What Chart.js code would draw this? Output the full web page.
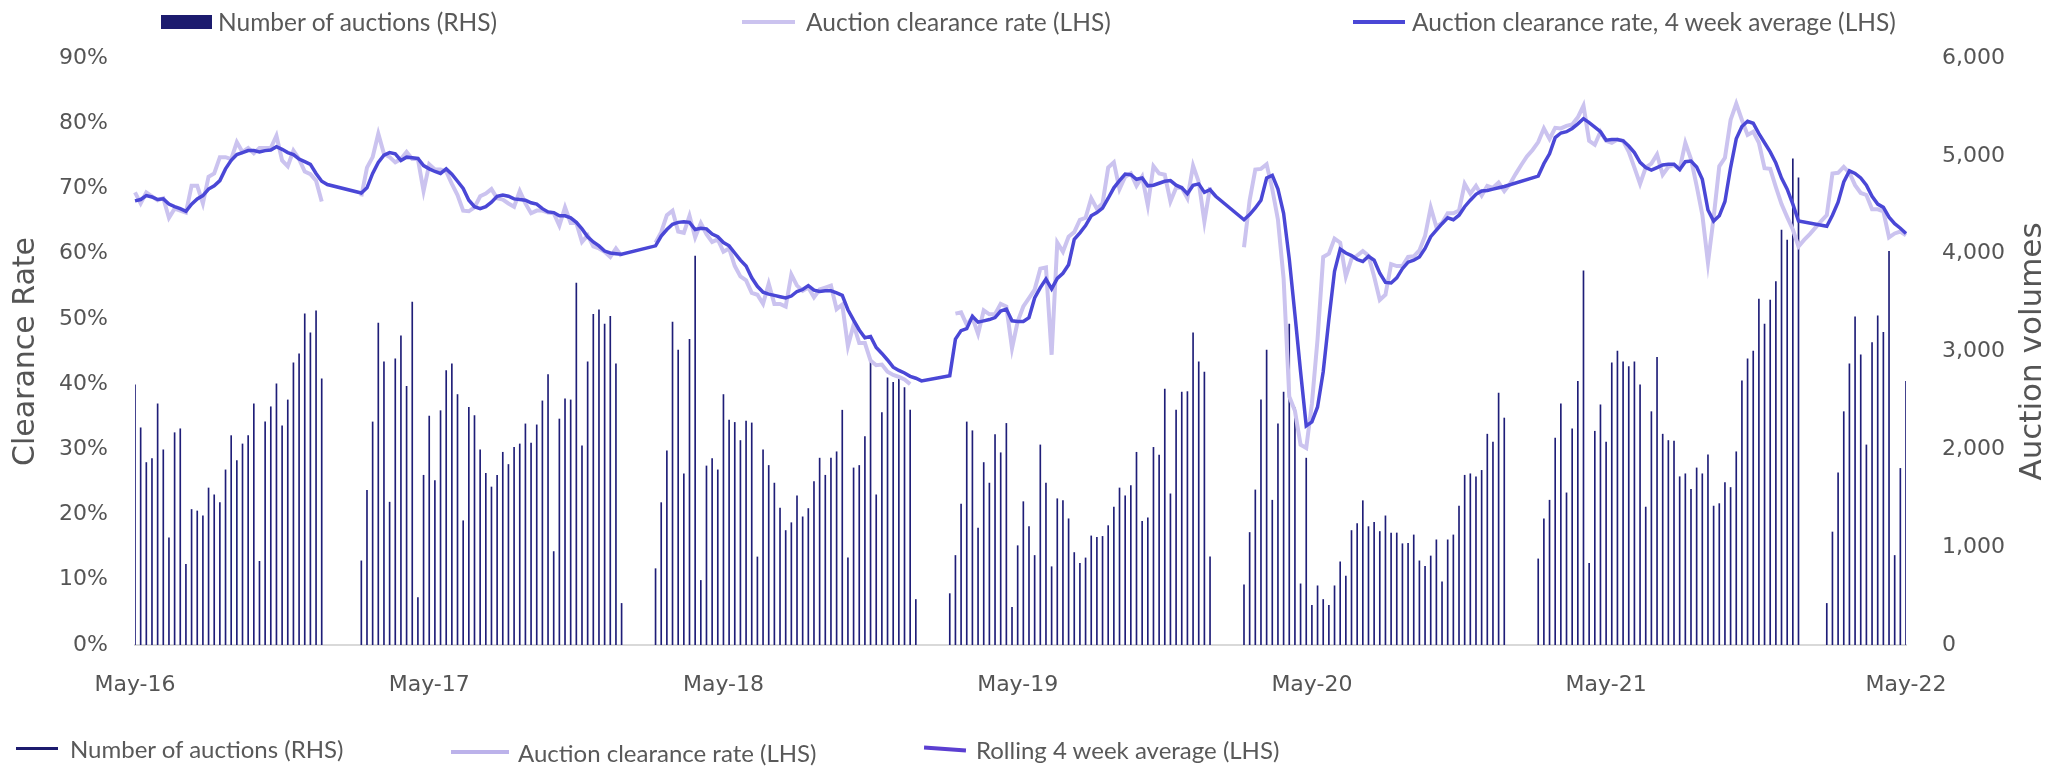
<!DOCTYPE html>
<html>
<head>
<meta charset="utf-8">
<script src="https://cdn.jsdelivr.net/npm/chart.js@4.4.1/dist/chart.umd.min.js"></script>
<style>
  html, body { margin: 0; padding: 0; background: #fff; }
  #wrap { position: relative; width: 2063px; height: 767px; }
  #chart { position: absolute; left: 0; top: 0; }
  .lg { position: absolute; font-family: Lato, "Liberation Sans", sans-serif; font-size: 24.5px;
        color: #595959; white-space: nowrap; line-height: 1.2; transform: translateY(-50%); }
  .lg.b { font-size: 24px; }
  .sw { position: absolute; }
</style>
</head>
<body>
<div id="wrap">
  <canvas id="chart" width="2063" height="767"></canvas>

  <!-- top legend -->
  <div class="sw" style="left:161px;top:15px;width:51px;height:14px;background:#1c1b6e"></div>
  <div class="lg" style="left:218px;top:22px">Number of auctions (RHS)</div>
  <div class="sw" style="left:742px;top:20px;width:53px;height:4px;background:#cbc3ef"></div>
  <div class="lg" style="left:806px;top:22px">Auction clearance rate (LHS)</div>
  <div class="sw" style="left:1353px;top:20px;width:52px;height:4px;background:#4a47d6"></div>
  <div class="lg" style="left:1412px;top:22px">Auction clearance rate, 4 week average (LHS)</div>

  <!-- bottom legend -->
  <div class="sw" style="left:16px;top:747px;width:42px;height:3px;background:#1c1b6e"></div>
  <div class="lg b" style="left:70px;top:749px">Number of auctions (RHS)</div>
  <div class="sw" style="left:451px;top:750px;width:58px;height:4px;background:#bcb2ea"></div>
  <div class="lg b" style="left:518px;top:753px">Auction clearance rate (LHS)</div>
  <div class="sw" style="left:924px;top:747px;width:42px;height:4px;background:#5b3fd1;transform:rotate(4deg)"></div>
  <div class="lg b" style="left:976px;top:750px">Rolling 4 week average (LHS)</div>
</div>

<script>
// weekly, first week 7 May 2016
const firstWeek = Date.UTC(2016, 4, 7);

// number of auctions per week (RHS)
const auctions = [
  2660, 2220, 1865, 1905, 2465, 1995, 1095, 2170, 2210, 825, 1385, 1370, 1320, 1605, 1535, 1455, 1790,
  2140, 1885, 2055, 2140, 2465, 855, 2280, 2435, 2670, 2240, 2505, 2885, 2975, 3385, 3190, 3415, 2720,
  null, null, null, null, null, null,
  860, 1580, 2280, 3290, 2895, 1460, 2925, 3160, 2645, 3505, 485, 1735, 2340, 1680, 2395, 2805, 2875,
  2560, 1270, 2430, 2345, 1995, 1755, 1615, 1735, 1970, 1845, 2020, 2055, 2260, 2065, 2250, 2495, 2765,
  955, 2310, 2515, 2505, 3700, 2035, 2895, 3380, 3425, 3280, 3360, 2875, 425,
  null, null, null, null, null,
  780, 1455, 1985, 3300, 3015, 1750, 3125, 3975, 660, 1830, 1905, 1790, 2560, 2300, 2275, 2090, 2290,
  2270, 900, 1995, 1835, 1655, 1400, 1170, 1250, 1525, 1310, 1395, 1670, 1910, 1735, 1910, 1975, 2400,
  890, 1810, 1835, 2130, 2915, 1535, 2375, 2730, 2685, 2720, 2630, 2400, 465,
  null, null, null, null, null,
  525, 915, 1440, 2280, 2190, 1195, 1865, 1655, 2150, 1965, 2265, 385, 1015, 1465, 1210, 915, 2045,
  1655, 800, 1495, 1475, 1290, 945, 835, 890, 1115, 1100, 1110, 1220, 1410, 1605, 1525, 1630, 1970,
  1265, 1300, 2020, 1940, 2615, 1545, 2400, 2585, 2590, 3190, 2895, 2790, 900,
  null, null, null, null, null,
  615, 1150, 1585, 2505, 3015, 1480, 2260, 2585, 3280, 2425, 625, 1910, 405, 605, 465, 405, 605,
  850, 705, 1170, 1240, 1475, 1210, 1255, 1160, 1320, 1145, 1145, 1035, 1040, 1125, 860, 805, 910,
  1075, 645, 1075, 1125, 1420, 1735, 1750, 1720, 1785, 2155, 2075, 2575, 2320,
  null, null, null, null, null,
  880, 1290, 1480, 2115, 2465, 1555, 2210, 2695, 3825, 835, 2185, 2455, 2075, 2885, 3005, 2895, 2845,
  2895, 2660, 1410, 2385, 2940, 2155, 2090, 2085, 1720, 1750, 1590, 1810, 1750, 1945, 1420, 1445, 1660,
  1610, 1975, 2700, 2925, 3005, 3535, 3280, 3525, 3715, 4240, 4140, 4970, 4775,
  null, null, null, null,
  425, 1155, 1760, 2385, 2875, 3355, 2965, 2045, 3090, 3365, 3195, 4025, 915, 1805, 2695
];

// weekly auction clearance rate, % (LHS)
const clearanceRate = [
  69.4, 67.7, 69.4, 68.8, 68.2, 68.5, 65.5, 66.9, 66.6, 66.3, 70.4, 70.4, 67.7, 71.8, 72.3, 74.8, 74.8,
  74.5, 77.1, 75.6, 76.2, 75.4, 76.2, 76.2, 76.2, 78.1, 74.3, 73.4, 75.8, 74.5, 72.6, 72.2, 71.2, 68.0,
  null, null, null, null, null, null,
  68.8, 73.2, 74.8, 78.4, 75.3, 74.8, 74.0, 74.5, 75.6, 74.5, 74.5, 69.6, 73.7, 72.9, 72.9, 72.6, 70.7,
  69.0, 66.6, 66.5, 67.1, 68.8, 69.2, 69.9, 68.5, 68.3, 67.7, 67.2, 69.6, 67.7, 66.2, 66.6, 66.6, 66.3,
  66.2, 64.3, 67.1, 64.7, 64.7, 61.8, 62.8, 61.1, 60.8, 60.3, 59.5, 60.8, 59.6,
  null, null, null, null, null,
  61.7, 63.3, 65.9, 66.6, 63.4, 63.2, 65.8, 62.5, 64.7, 63.0, 61.8, 62.2, 60.3, 60.8, 58.1, 56.5, 55.9,
  54.0, 53.7, 52.3, 55.4, 52.3, 52.3, 51.9, 56.8, 55.1, 54.3, 54.8, 53.3, 54.5, 54.8, 55.1, 51.5, 52.2,
  45.8, 49.1, 46.3, 46.3, 43.6, 42.9, 43.0, 41.9, 41.4, 41.1, 40.7, 40.0,
  null, null, null, null, null, null, null,
  50.8, 51.0, 49.1, 50.2, 47.7, 51.3, 50.7, 50.7, 52.3, 51.9, 45.5, 49.6, 51.9, 53.2, 54.5, 57.7, 57.9,
  44.5, 61.7, 60.3, 62.6, 63.3, 65.2, 65.5, 68.5, 66.9, 67.7, 73.2, 74.0, 69.9, 71.8, 72.3, 70.4, 71.8,
  67.4, 73.4, 72.3, 72.1, 68.0, 70.1, 70.1, 68.5, 73.5, 71.0, 64.9, 70.2,
  null, null, null, null, null,
  61.0, 68.2, 72.9, 73.0, 73.7, 69.9, 65.2, 56.2, 38.1, 35.9, 30.7, 30.2, 37.0, 46.9, 59.5, 60.0, 62.3,
  61.7, 56.5, 59.2, 59.7, 60.4, 59.7, 56.5, 52.9, 53.7, 58.4, 58.1, 58.1, 59.5, 59.6, 60.5, 62.7, 67.1,
  64.1, 64.7, 66.2, 66.2, 66.6, 70.7, 69.2, 70.4, 68.9, 70.4, 70.1, 70.9, 69.6,
  70.7, 72.2, 73.6, 74.9, 75.9,
  77.1, 79.2, 77.6, 79.3, 79.2, 79.6, 79.8, 80.9, 82.7, 77.3, 76.7, 78.7, 77.3, 77.0, 77.5, 77.3, 75.6,
  73.2, 70.7, 73.2, 73.8, 75.2, 72.1, 73.3, 73.6, 73.0, 77.0, 74.5, 70.4, 66.0, 58.6, 65.5, 73.4, 74.7,
  80.5, 83.0, 80.5, 78.2, 78.7, 77.0,
  73.1, 73.0, 70.2, 67.6, 65.6, 63.7, 61.1, 62.1, 63.0, 64.0, 65.0, 65.9, 72.3, 72.4, 73.3, 72.4, 70.5,
  69.3, 69.0, 66.8, 66.8, 66.5, 62.5, 63.1, 63.4, 62.8
];

// rolling 4 week average clearance rate, % (LHS)
const rollingAvg = [
  68.1, 68.3, 68.9, 68.7, 68.3, 68.4, 67.6, 67.2, 66.9, 66.5, 67.6, 68.4, 68.9, 69.9, 70.4, 71.2, 73.0,
  74.3, 75.2, 75.5, 75.8, 75.8, 75.6, 75.8, 75.9, 76.4, 76.0, 75.5, 75.2, 74.5, 74.1, 73.7, 72.3, 71.1,
  70.6,
  null, null, null, null, null,
  69.3, 70.1, 72.3, 74.0, 75.1, 75.5, 75.3, 74.3, 74.8, 74.7, 74.6, 73.5, 73.0, 72.6, 72.3, 73.0, 72.2,
  71.1, 70.0, 68.2, 67.2, 66.9, 67.2, 67.9, 68.8, 69.0, 68.8, 68.4, 68.3, 68.2, 67.8, 67.6, 66.9, 66.4,
  66.3, 65.8, 65.8, 65.5, 64.8, 63.8, 62.6, 61.8, 61.2, 60.4, 60.1, 60.0, 59.9,
  null, null, null, null, null,
  61.2, 62.7, 63.7, 64.5, 64.8, 64.9, 64.8, 63.7, 63.9, 63.8, 63.0, 62.6, 61.7, 61.2, 60.1, 59.0, 58.1,
  56.3, 55.0, 54.1, 53.8, 53.6, 53.4, 53.2, 53.5, 54.2, 54.5, 55.1, 54.4, 54.2, 54.3, 54.3, 54.0, 53.6,
  51.4, 49.8, 48.3, 47.1, 47.3, 45.6, 44.7, 43.7, 42.6, 42.1, 41.7, 41.2, 40.9, 40.5,
  null, null, null, null,
  41.3, 46.9, 48.2, 48.5, 50.4, 49.5, 49.7, 49.9, 50.2, 51.2, 51.5, 49.7, 49.6, 49.6, 50.2, 53.2, 54.8,
  56.1, 54.6, 56.2, 57.0, 58.3, 62.2, 63.2, 64.3, 65.8, 66.3, 67.0, 68.5, 70.1, 71.2, 72.2, 72.1, 71.4,
  71.6, 70.4, 70.5, 70.8, 71.1, 71.2, 70.5, 70.1, 69.2, 70.5, 70.7, 69.4, 69.8, 68.8,
  null, null, null, null,
  65.2, 66.0, 67.0, 68.2, 71.6, 72.0, 69.9, 66.2, 59.2, 50.7, 41.9, 33.6, 34.2, 36.5, 41.9, 49.9, 57.3,
  60.7, 60.1, 59.7, 59.1, 58.8, 59.6, 59.0, 57.0, 55.6, 55.5, 56.3, 57.7, 58.7, 59.0, 59.5, 60.8, 62.6,
  63.6, 64.6, 65.5, 65.2, 65.9, 67.2, 68.2, 69.1, 69.6, 69.7, 69.9, 70.1, 70.3,
  null, null, null, null, null,
  71.9, 73.8, 75.3, 77.8, 78.5, 78.7, 79.2, 79.9, 80.7, 80.1, 79.4, 78.7, 77.4, 77.5, 77.5, 77.3, 76.5,
  75.5, 74.0, 73.2, 72.8, 73.2, 73.6, 73.7, 73.7, 72.9, 74.1, 74.2, 73.3, 71.4, 66.7, 65.0, 65.8, 68.0,
  73.2, 77.6, 79.5, 80.3, 80.0, 78.4, 77.0, 75.6, 73.9, 71.6, 69.9, 67.6, 65.0,
  null, null, null, null,
  64.2, 65.9, 67.9, 71.0, 72.7, 72.3, 71.6, 70.5, 68.8, 67.6, 67.1, 65.6, 64.6, 63.9, 63.1
];

// x axis labels and the week each one sits on
const tickLabels = ["May-16", "May-17", "May-18", "May-19", "May-20", "May-21", "May-22"];
const tickWeeks = [0, 52, 104, 156, 208, 260, 313];

const weeks = auctions.map((_, i) =>
  new Date(firstWeek + i * 7 * 86400000).toISOString().slice(0, 10));

const tickFont = { family: "'DejaVu Sans', sans-serif", size: 22 };
const grey = "#555555";

// right axis title reads bottom to top, like the left one
const rightTitle = {
  id: "rightTitle",
  afterDraw(chart) {
    const { ctx, chartArea } = chart;
    const s = chart.scales.y2;
    ctx.save();
    ctx.translate(s.right - 30, (chartArea.top + chartArea.bottom) / 2);
    ctx.rotate(-Math.PI / 2);
    ctx.font = "31px 'DejaVu Sans', sans-serif";
    ctx.fillStyle = grey;
    ctx.textAlign = "center";
    ctx.textBaseline = "middle";
    ctx.fillText("Auction volumes", 0, 0);
    ctx.restore();
  }
};

new Chart(document.getElementById("chart"), {
  type: "bar",
  data: {
    labels: weeks,
    datasets: [
      {
        type: "line",
        label: "Auction clearance rate, 4 week average (LHS)",
        data: rollingAvg,
        yAxisID: "y",
        borderColor: "#4a47d6",
        borderWidth: 3.5,
        pointRadius: 0,
        spanGaps: true,
        order: 1
      },
      {
        type: "line",
        label: "Auction clearance rate (LHS)",
        data: clearanceRate,
        yAxisID: "y",
        borderColor: "#cbc3ef",
        borderWidth: 4,
        pointRadius: 0,
        spanGaps: false,
        order: 2
      },
      {
        type: "bar",
        label: "Number of auctions (RHS)",
        data: auctions,
        yAxisID: "y2",
        backgroundColor: "#1f1e78",
        barThickness: 1,
        order: 3
      }
    ]
  },
  options: {
    responsive: false,
    animation: false,
    layout: { padding: { top: 58, bottom: 62, left: 0, right: 0 } },
    plugins: { legend: { display: false }, tooltip: { enabled: false } },
    scales: {
      x: {
        offset: false,
        grid: { display: false, drawTicks: false },
        border: { display: true, color: "#d9d9d9", width: 2 },
        ticks: {
          autoSkip: false,
          maxRotation: 0,
          padding: 27,
          font: tickFont,
          color: grey,
          callback: (v, i) => {
            const k = tickWeeks.indexOf(i);
            return k >= 0 ? tickLabels[k] : "";
          }
        },
        afterFit: (s) => { s.height = 60; }
      },
      y: {
        position: "left",
        min: 0,
        max: 90,
        grid: { display: false, drawTicks: false },
        border: { display: false },
        ticks: { stepSize: 10, padding: 27, font: tickFont, color: grey, callback: (v) => v + "%" },
        title: {
          display: true,
          text: "Clearance Rate",
          color: grey,
          font: { family: "'DejaVu Sans', sans-serif", size: 30 },
          padding: { top: 8, bottom: 0 }
        },
        afterFit: (s) => { s.width = 135; }
      },
      y2: {
        position: "right",
        min: 0,
        max: 6000,
        grid: { display: false, drawTicks: false },
        border: { display: false },
        ticks: { stepSize: 1000, padding: 36, font: tickFont, color: grey,
                 callback: (v) => v.toLocaleString("en-US") },
        afterFit: (s) => { s.width = 157; }
      }
    }
  },
  plugins: [rightTitle]
});
</script>
</body>
</html>
